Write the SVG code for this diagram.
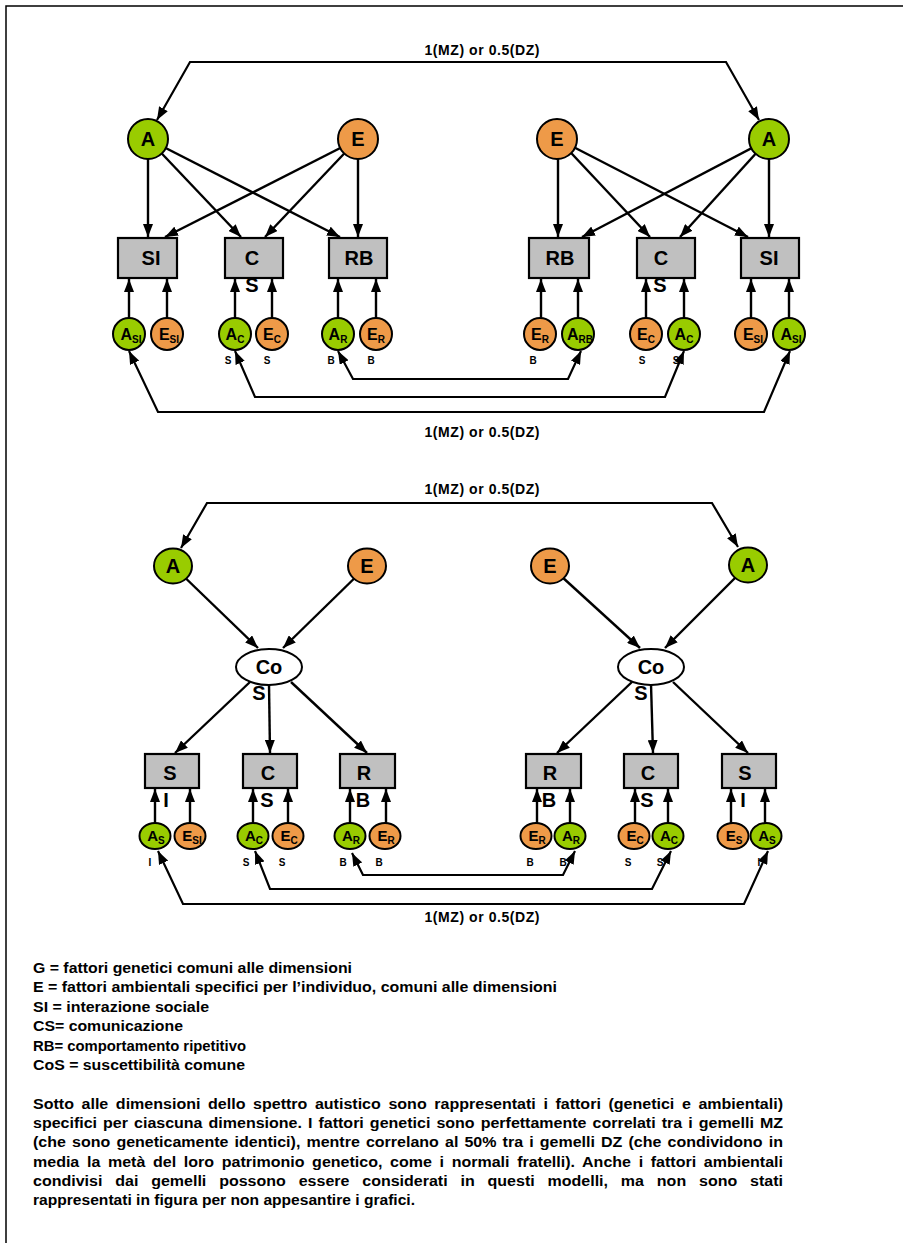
<svg xmlns="http://www.w3.org/2000/svg" width="903" height="1243" viewBox="0 0 903 1243">
<style>
.t{font-family:"Liberation Sans",Arial,sans-serif;font-weight:bold;fill:#000}
.big{font-size:20px;text-anchor:middle}
.box{font-size:20px;text-anchor:middle}
.sm{font-size:16px;text-anchor:middle}
.smb{font-size:15px;text-anchor:middle}
.tiny{font-size:10px;text-anchor:middle}
.cap{font-size:14px;text-anchor:middle}
.leg{font-size:14px}
.par{font-size:14px}
.g{fill:#99CC00;stroke:#000;stroke-width:2}
.o{fill:#EE9A48;stroke:#000;stroke-width:2}
.w{fill:#fff;stroke:#000;stroke-width:2}
.r{fill:#C0C0C0;stroke:#000;stroke-width:2.2}
.c{fill:none;stroke:#000;stroke-width:2.4;marker-end:url(#ah)}
.cc{fill:none;stroke:#000;stroke-width:2.2;marker-start:url(#ah);marker-end:url(#ah)}
</style>
<defs>
<marker id="ah" viewBox="0 0 13 10" refX="13" refY="5" markerWidth="13" markerHeight="10" markerUnits="userSpaceOnUse" orient="auto-start-reverse"><path d="M0,0 L13,5 L0,10 z" fill="#000"/></marker>
</defs>
<rect width="903" height="1243" fill="#fff"/>
<path d="M6,1243 L6,6 L903,6" fill="none" stroke="#000" stroke-width="1.5"/>

<g id="connectors">
<path class="cc" d="M157,120 L190,62 L726,62 L759,120"/>
<path class="c" d="M148,139 L148,237"/>
<path class="c" d="M148,139 L241,237"/>
<path class="c" d="M148,139 L340,237"/>
<path class="c" d="M358,139 L165,237"/>
<path class="c" d="M358,139 L265,237"/>
<path class="c" d="M358,139 L358,237"/>
<path class="c" d="M558,139 L558,237"/>
<path class="c" d="M558,139 L650,237"/>
<path class="c" d="M558,139 L748,237"/>
<path class="c" d="M769,139 L582,237"/>
<path class="c" d="M769,139 L680,237"/>
<path class="c" d="M769,139 L769,237"/>
<path class="c" d="M129,334 L129,279"/>
<path class="c" d="M167,334 L167,279"/>
<path class="c" d="M235,334 L235,279"/>
<path class="c" d="M272,334 L272,279"/>
<path class="c" d="M338,334 L338,279"/>
<path class="c" d="M376,334 L376,279"/>
<path class="c" d="M541,334 L541,279"/>
<path class="c" d="M578,334 L578,279"/>
<path class="c" d="M646,334 L646,279"/>
<path class="c" d="M684,334 L684,279"/>
<path class="c" d="M751,334 L751,279"/>
<path class="c" d="M789,334 L789,279"/>
<path class="cc" d="M129,351 L158,412 L764,412 L790,351"/>
<path class="cc" d="M235,351 L255,397 L665,397 L684,351"/>
<path class="cc" d="M338,351 L353,379 L568,379 L581,351"/>

<path class="cc" d="M181,548 L207,503 L712,503 L738,547"/>
<path class="c" d="M173,566 L258,648"/>
<path class="c" d="M367,566 L283,648"/>
<path class="c" d="M550,566 L640,648"/>
<path class="c" d="M748,565 L665,648"/>
<path class="c" d="M250,682 L175,753"/>
<path class="c" d="M269,684 L270,753"/>
<path class="c" d="M291,682 L367,753"/>
<path class="c" d="M632,682 L557,753"/>
<path class="c" d="M651,684 L653,753"/>
<path class="c" d="M673,682 L748,753"/>
<path class="c" d="M155,836 L155,789"/>
<path class="c" d="M190,836 L190,789"/>
<path class="c" d="M253,836 L253,789"/>
<path class="c" d="M288,836 L288,789"/>
<path class="c" d="M350,836 L350,789"/>
<path class="c" d="M386,836 L386,789"/>
<path class="c" d="M537,836 L537,789"/>
<path class="c" d="M570,836 L570,789"/>
<path class="c" d="M635,836 L635,789"/>
<path class="c" d="M668,836 L668,789"/>
<path class="c" d="M731,836 L731,789"/>
<path class="c" d="M765,836 L765,789"/>
<path class="cc" d="M158,851 L183,904 L744,904 L768,851"/>
<path class="cc" d="M255,851 L270,889 L652,889 L671,851"/>
<path class="cc" d="M352,853 L363,875 L563,875 L575,851"/>
</g>

<g id="labels">
<text class="t cap" x="482" y="55" textLength="115">1(MZ) or 0.5(DZ)</text>
<text class="t cap" x="482" y="437" textLength="115">1(MZ) or 0.5(DZ)</text>
<text class="t cap" x="482" y="494" textLength="115">1(MZ) or 0.5(DZ)</text>
<text class="t cap" x="482" y="922" textLength="115">1(MZ) or 0.5(DZ)</text>
</g>

<g id="tA1"><circle class="g" cx="148" cy="139" r="20"/><text class="t big" x="148" y="146">A</text></g>
<g id="tE1"><circle class="o" cx="358" cy="139" r="20"/><text class="t big" x="358" y="146">E</text></g>
<g id="tE2"><circle class="o" cx="557" cy="139" r="20"/><text class="t big" x="557" y="146">E</text></g>
<g id="tA2"><circle class="g" cx="769" cy="139" r="20"/><text class="t big" x="769" y="146">A</text></g>

<g id="tSI1"><rect class="r" x="118" y="238" width="59" height="40"/><text class="t box" x="151" y="265">SI</text></g>
<g id="tCS1"><rect class="r" x="225" y="238" width="58" height="40"/><text class="t box" x="252" y="265">C</text><text class="t box" x="252" y="292">S</text></g>
<g id="tRB1"><rect class="r" x="329" y="238" width="58" height="40"/><text class="t box" x="359" y="265">RB</text></g>
<g id="tRB2"><rect class="r" x="529" y="238" width="60" height="40"/><text class="t box" x="560" y="265">RB</text></g>
<g id="tCS2"><rect class="r" x="637" y="238" width="58" height="40"/><text class="t box" x="661" y="265">C</text><text class="t box" x="660" y="292">S</text></g>
<g id="tSI2"><rect class="r" x="741" y="238" width="58" height="40"/><text class="t box" x="769" y="265">SI</text></g>

<g id="tAsi1"><circle class="g" cx="129" cy="334" r="16"/><text class="t sm" x="131" y="340">A<tspan font-size="10" dy="3">SI</tspan></text></g>
<g id="tEsi1"><circle class="o" cx="167" cy="334" r="16"/><text class="t sm" x="169" y="340">E<tspan font-size="10" dy="3">SI</tspan></text></g>
<g id="tAc1"><circle class="g" cx="235" cy="334" r="16"/><text class="t sm" x="235" y="340">A<tspan font-size="10" dy="3">C</tspan></text><text class="t tiny" x="228" y="364">S</text></g>
<g id="tEc1"><circle class="o" cx="272" cy="334" r="16"/><text class="t sm" x="272" y="340">E<tspan font-size="10" dy="3">C</tspan></text><text class="t tiny" x="267" y="364">S</text></g>
<g id="tAr1"><circle class="g" cx="338" cy="334" r="16"/><text class="t sm" x="338" y="340">A<tspan font-size="10" dy="3">R</tspan></text><text class="t tiny" x="331" y="364">B</text></g>
<g id="tEr1"><circle class="o" cx="376" cy="334" r="16"/><text class="t sm" x="376" y="340">E<tspan font-size="10" dy="3">R</tspan></text><text class="t tiny" x="371" y="364">B</text></g>
<g id="tEr2"><circle class="o" cx="540" cy="334" r="16"/><text class="t sm" x="540" y="340">E<tspan font-size="10" dy="3">R</tspan></text><text class="t tiny" x="533" y="364">B</text></g>
<g id="tArb2"><circle class="g" cx="578" cy="334" r="16"/><text class="t sm" x="580" y="340">A<tspan font-size="10" dy="3">RB</tspan></text></g>
<g id="tEc2"><circle class="o" cx="646" cy="334" r="16"/><text class="t sm" x="646" y="340">E<tspan font-size="10" dy="3">C</tspan></text><text class="t tiny" x="642" y="364">S</text></g>
<g id="tAc2"><circle class="g" cx="684" cy="334" r="16"/><text class="t sm" x="684" y="340">A<tspan font-size="10" dy="3">C</tspan></text><text class="t tiny" x="676" y="364">S</text></g>
<g id="tEsi2"><circle class="o" cx="751" cy="334" r="16"/><text class="t sm" x="753" y="340">E<tspan font-size="10" dy="3">SI</tspan></text></g>
<g id="tAsi2"><circle class="g" cx="789" cy="334" r="16"/><text class="t sm" x="791" y="340">A<tspan font-size="10" dy="3">SI</tspan></text></g>

<g id="bA1"><ellipse class="g" cx="173" cy="566" rx="19" ry="17.5"/><text class="t big" x="173" y="573">A</text></g>
<g id="bE1"><ellipse class="o" cx="367" cy="566" rx="19" ry="17.5"/><text class="t big" x="367" y="573">E</text></g>
<g id="bE2"><ellipse class="o" cx="550" cy="566" rx="19" ry="17.5"/><text class="t big" x="550" y="573">E</text></g>
<g id="bA2"><ellipse class="g" cx="748" cy="565" rx="19" ry="17.5"/><text class="t big" x="748" y="572">A</text></g>

<g id="bCo1"><ellipse class="w" cx="269" cy="667" rx="33" ry="18"/><text class="t big" x="269" y="674">Co</text><text class="t big" x="259" y="700">S</text></g>
<g id="bCo2"><ellipse class="w" cx="651" cy="667" rx="33" ry="18"/><text class="t big" x="651" y="674">Co</text><text class="t big" x="641" y="700">S</text></g>

<g id="bS1"><rect class="r" x="145" y="754" width="54" height="34"/><text class="t box" x="170" y="780">S</text><text class="t box" x="166" y="807">I</text></g>
<g id="bC1"><rect class="r" x="243" y="754" width="54" height="34"/><text class="t box" x="268" y="780">C</text><text class="t box" x="267" y="807">S</text></g>
<g id="bR1"><rect class="r" x="340" y="754" width="55" height="34"/><text class="t box" x="364" y="780">R</text><text class="t box" x="363" y="807">B</text></g>
<g id="bR2"><rect class="r" x="526" y="754" width="55" height="34"/><text class="t box" x="550" y="780">R</text><text class="t box" x="549" y="807">B</text></g>
<g id="bC2"><rect class="r" x="624" y="754" width="54" height="34"/><text class="t box" x="648" y="780">C</text><text class="t box" x="647" y="807">S</text></g>
<g id="bS2"><rect class="r" x="722" y="754" width="54" height="34"/><text class="t box" x="745" y="780">S</text><text class="t box" x="743" y="807">I</text></g>

<g id="bAs1"><ellipse class="g" cx="155" cy="836" rx="15.5" ry="13"/><text class="t smb" x="156" y="841">A<tspan font-size="10" dy="3">S</tspan></text><text class="t tiny" x="150" y="866">I</text></g>
<g id="bEsi1"><ellipse class="o" cx="190" cy="836" rx="15.5" ry="13"/><text class="t smb" x="192" y="841">E<tspan font-size="10" dy="3">SI</tspan></text></g>
<g id="bAc1"><ellipse class="g" cx="253" cy="836" rx="15.5" ry="13"/><text class="t smb" x="254" y="841">A<tspan font-size="10" dy="3">C</tspan></text><text class="t tiny" x="246" y="866">S</text></g>
<g id="bEc1"><ellipse class="o" cx="288" cy="836" rx="15.5" ry="13"/><text class="t smb" x="289" y="841">E<tspan font-size="10" dy="3">C</tspan></text><text class="t tiny" x="282" y="866">S</text></g>
<g id="bAr1"><ellipse class="g" cx="350" cy="836" rx="15.5" ry="13"/><text class="t smb" x="351" y="841">A<tspan font-size="10" dy="3">R</tspan></text><text class="t tiny" x="343" y="866">B</text></g>
<g id="bEr1"><ellipse class="o" cx="385" cy="836" rx="15.5" ry="13"/><text class="t smb" x="386" y="841">E<tspan font-size="10" dy="3">R</tspan></text><text class="t tiny" x="379" y="866">B</text></g>
<g id="bEr2"><ellipse class="o" cx="536" cy="836" rx="15.5" ry="13"/><text class="t smb" x="537" y="841">E<tspan font-size="10" dy="3">R</tspan></text><text class="t tiny" x="530" y="866">B</text></g>
<g id="bAr2"><ellipse class="g" cx="570" cy="836" rx="15.5" ry="13"/><text class="t smb" x="571" y="841">A<tspan font-size="10" dy="3">R</tspan></text><text class="t tiny" x="563" y="866">B</text></g>
<g id="bEc2"><ellipse class="o" cx="634" cy="836" rx="15.5" ry="13"/><text class="t smb" x="635" y="841">E<tspan font-size="10" dy="3">C</tspan></text><text class="t tiny" x="628" y="866">S</text></g>
<g id="bAc2"><ellipse class="g" cx="668" cy="836" rx="15.5" ry="13"/><text class="t smb" x="669" y="841">A<tspan font-size="10" dy="3">C</tspan></text><text class="t tiny" x="660" y="866">S</text></g>
<g id="bEs2"><ellipse class="o" cx="733" cy="836" rx="15.5" ry="13"/><text class="t smb" x="734" y="841">E<tspan font-size="10" dy="3">S</tspan></text></g>
<g id="bAs2"><ellipse class="g" cx="766" cy="836" rx="15.5" ry="13"/><text class="t smb" x="767" y="841">A<tspan font-size="10" dy="3">S</tspan></text><text class="t tiny" x="759" y="866">I</text></g>

<g id="legend">
<text class="t leg" x="33" y="973" textLength="319" lengthAdjust="spacingAndGlyphs">G = fattori genetici comuni alle dimensioni</text>
<text class="t leg" x="33" y="992" textLength="524" lengthAdjust="spacingAndGlyphs">E = fattori ambientali specifici per l’individuo, comuni alle dimensioni</text>
<text class="t leg" x="33" y="1012" textLength="176" lengthAdjust="spacingAndGlyphs">SI = interazione sociale</text>
<text class="t leg" x="33" y="1031" textLength="150" lengthAdjust="spacingAndGlyphs">CS= comunicazione</text>
<text class="t leg" x="33" y="1051" textLength="213" lengthAdjust="spacingAndGlyphs">RB= comportamento ripetitivo</text>
<text class="t leg" x="33" y="1070" textLength="212" lengthAdjust="spacingAndGlyphs">CoS = suscettibilità comune</text>
</g>
<g id="paragraph">
<text class="t par" x="33" y="1109" word-spacing="2.76" textLength="750" lengthAdjust="spacingAndGlyphs">Sotto alle dimensioni dello spettro autistico sono rappresentati i fattori (genetici e ambientali)</text>
<text class="t par" x="33" y="1128" word-spacing="1.41" textLength="750" lengthAdjust="spacingAndGlyphs">specifici per ciascuna dimensione. I fattori genetici sono perfettamente correlati tra i gemelli MZ</text>
<text class="t par" x="33" y="1147" word-spacing="1.48" textLength="750" lengthAdjust="spacingAndGlyphs">(che sono geneticamente identici), mentre correlano al 50% tra i gemelli DZ (che condividono in</text>
<text class="t par" x="33" y="1167" word-spacing="2.81" textLength="750" lengthAdjust="spacingAndGlyphs">media la metà del loro patrimonio genetico, come i normali fratelli). Anche i fattori ambientali</text>
<text class="t par" x="33" y="1186" word-spacing="7.36" textLength="750" lengthAdjust="spacingAndGlyphs">condivisi dai gemelli possono essere considerati in questi modelli, ma non sono stati</text>
<text class="t par" x="33" y="1205" textLength="382" lengthAdjust="spacingAndGlyphs">rappresentati in figura per non appesantire i grafici.</text>
</g>
</svg>
